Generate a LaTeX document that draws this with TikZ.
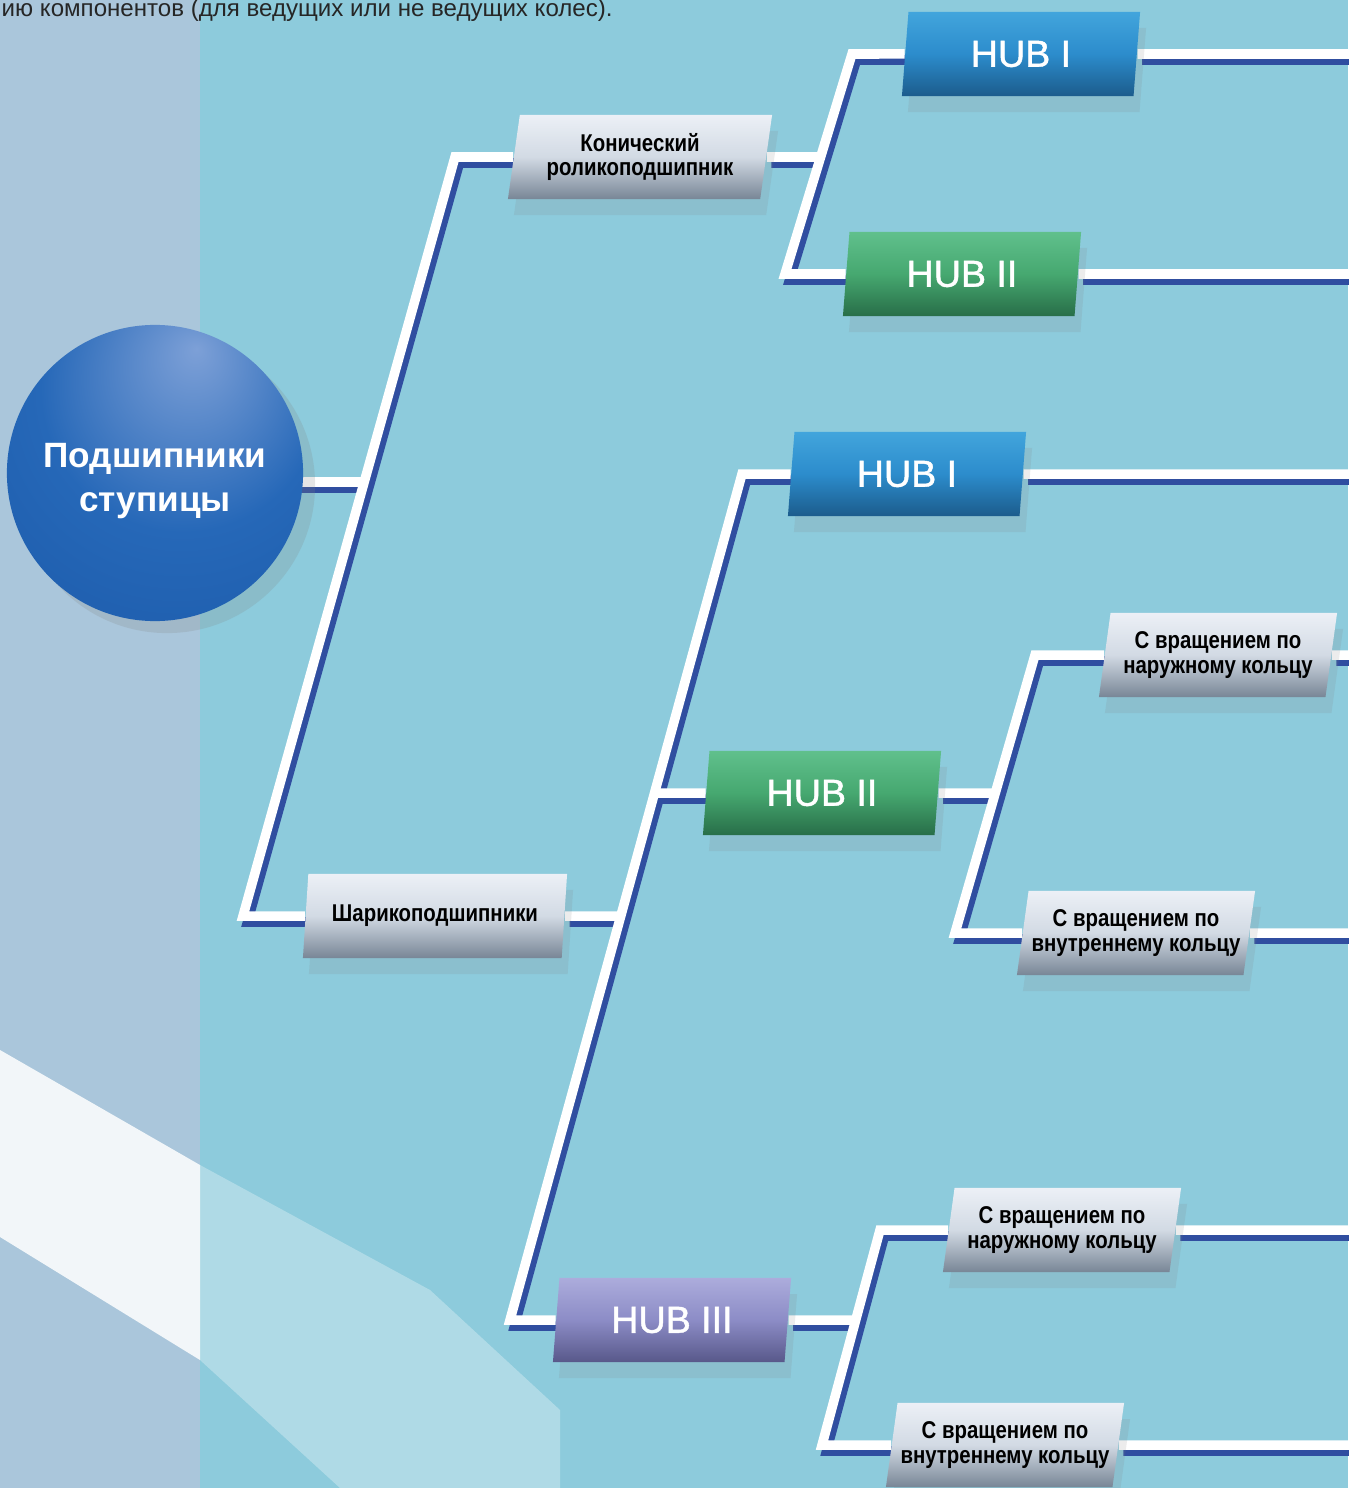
\documentclass[tikz,border=0pt]{standalone}
\usepackage{fontspec}
\setmainfont{Liberation Sans}
\newfontfamily\condfont[FakeStretch=0.84]{Liberation Sans}
\newfontfamily\hubfont[FakeBold=1.2]{Liberation Sans}
\usepackage{tikz}
\usetikzlibrary{shapes.geometric, shadows}

\definecolor{bgcyan}{RGB}{141,203,220}
\definecolor{bgleft}{RGB}{170,198,219}
\definecolor{linkblue}{RGB}{48,78,160}
\definecolor{sphhi}{RGB}{125,160,215}
\definecolor{sphmid}{RGB}{38,104,184}
\definecolor{sphlo}{RGB}{26,88,168}
\definecolor{sphedge}{RGB}{18,66,145}
\definecolor{greytop}{RGB}{236,240,246}
\definecolor{greymid}{RGB}{210,218,228}
\definecolor{greybot}{RGB}{120,134,150}
\definecolor{bluetop}{RGB}{66,165,220}
\definecolor{bluemid}{RGB}{44,140,204}
\definecolor{bluebot}{RGB}{28,92,140}
\definecolor{greentop}{RGB}{96,192,140}
\definecolor{greenmid}{RGB}{70,168,112}
\definecolor{greenbot}{RGB}{40,110,72}
\definecolor{purpletop}{RGB}{172,172,220}
\definecolor{purplemid}{RGB}{140,140,198}
\definecolor{purplebot}{RGB}{88,88,138}

\pgfdeclareradialshading{sphere}{\pgfpoint{7bp}{21bp}}{color(0bp)=(sphhi); color(24bp)=(sphmid); color(50bp)=(sphlo); color(72bp)=(sphedge)}

\pgfdeclarelayer{bg}
\pgfdeclarelayer{lines}
\pgfsetlayers{bg,lines,main}

\tikzstyle{rootball} = [circle, minimum size=2.96cm, shading=sphere, text=white, align=center, font=\bfseries\fontsize{10}{12.5}\selectfont, drop shadow={shadow xshift=1.2mm, shadow yshift=-1.2mm, opacity=0.2}]
\tikzstyle{plate} = [trapezium, trapezium left angle=76, trapezium right angle=104, trapezium stretches body, minimum width=2.38cm, minimum height=0.84cm, align=center, inner sep=0pt, drop shadow={shadow xshift=0.6mm, shadow yshift=-1.6mm, opacity=0.15}]
\tikzstyle{variant} = [plate, top color=greytop, bottom color=greybot, middle color=greymid, text=black, font=\condfont\bfseries\fontsize{6.9}{7}\selectfont]
\tikzstyle{hub} = [plate, text=white, font=\hubfont\fontsize{10.7}{12}\selectfont]
\tikzstyle{hubone} = [hub, top color=bluetop, bottom color=bluebot, middle color=bluemid]
\tikzstyle{hubtwo} = [hub, top color=greentop, bottom color=greenbot, middle color=greenmid]
\tikzstyle{hubthree} = [hub, top color=purpletop, bottom color=purplebot, middle color=purplemid]
\tikzstyle{link} = [line width=0.95mm, draw=white, preaction={draw=linkblue, line width=0.95mm, transform canvas={shift={(0.45mm,-0.6mm)}}}]

\begin{document}
\begin{tikzpicture}[x=0.01cm, y=-0.01cm]
  \useasboundingbox (0,0) rectangle (1348,1488);
  \begin{pgfonlayer}{bg}
    \fill[bgcyan] (0,0) rectangle (1348,1488);
    \fill[bgleft] (0,0) rectangle (200,1488);
    \fill[white, opacity=0.85] (0,1050) -- (200,1165) -- (200,1360) -- (0,1237) -- cycle;
    \fill[white, opacity=0.3] (200,1165) -- (430,1290) -- (560,1410) -- (560,1488) -- (340,1488) -- (200,1360) -- cycle;
  \end{pgfonlayer}

  \node (lead) [anchor=base west, inner sep=0pt, text=black!85, font=\fontsize{6.85}{8}\selectfont] at (1,17) {ию компонентов (для ведущих или не ведущих колес).};

  \node (root) [rootball] at (155,473) {\raisebox{-0.8mm}[\height][\depth]{\begin{tabular}{@{}c@{}}Подшипники\\ступицы\end{tabular}}};
  \node (kon) [variant, minimum width=2.64cm] at (640,157) {Конический\\роликоподшипник};
  \node (shar) [variant, minimum width=2.64cm] at (435,916) {Шарикоподшипники};
  \node (hub1a) [hubone] at (1021,54) {HUB I};
  \node (hub2a) [hubtwo] at (962,274) {HUB II};
  \node (hub1b) [hubone] at (907,474) {HUB I};
  \node (hub2b) [hubtwo] at (822,793) {HUB II};
  \node (hub3) [hubthree] at (672,1320) {HUB III};
  \node (outer1) [variant] at (1218,655) {С вращением по\\наружному кольцу};
  \node (inner1) [variant] at (1136,933) {С вращением по\\внутреннему кольцу};
  \node (outer2) [variant] at (1062,1230) {С вращением по\\наружному кольцу};
  \node (inner2) [variant] at (1005,1445) {С вращением по\\внутреннему кольцу};

  % trunk corners and junctions
  \coordinate (t1top) at (455,157);
  \coordinate (t1bot) at (243,916);
  \coordinate (j1) at (364,482);
  \coordinate (t2top) at (852,54);
  \coordinate (t2bot) at (785,274);
  \coordinate (j2) at (821,157);
  \coordinate (t3top) at (742,474);
  \coordinate (t3bot) at (510,1320);
  \coordinate (j3) at (621,916);
  \coordinate (j4) at (655,793);
  \coordinate (t4top) at (1035,655);
  \coordinate (t4bot) at (955,933);
  \coordinate (j5) at (995,793);
  \coordinate (t5top) at (880,1230);
  \coordinate (t5bot) at (822,1445);
  \coordinate (j6) at (856,1320);
  % free ends at the right edge
  \coordinate (e1) at (1370,54);
  \coordinate (e2) at (1370,274);
  \coordinate (e3) at (1370,474);
  \coordinate (e4) at (1370,655);
  \coordinate (e5) at (1370,933);
  \coordinate (e6) at (1370,1230);
  \coordinate (e7) at (1370,1445);

  \begin{pgfonlayer}{lines}
    \draw [link] (root.center |- j1) -- (j1);
    \draw [link] (kon) -- (t1top) -- (t1bot) -- (shar);
    \draw [link] (kon) -- (j2);
    \draw [link] (hub1a) -- (t2top) -- (t2bot) -- (hub2a);
    \draw [link] (hub1a) -- (e1);
    \draw [link] (hub2a) -- (e2);
    \draw [link] (shar) -- (j3);
    \draw [link] (hub1b) -- (t3top) -- (t3bot) -- (hub3);
    \draw [link] (j4) -- (hub2b);
    \draw [link] (hub1b) -- (e3);
    \draw [link] (hub2b) -- (j5);
    \draw [link] (outer1) -- (t4top) -- (t4bot) -- (inner1);
    \draw [link] (outer1) -- (e4);
    \draw [link] (inner1) -- (e5);
    \draw [link] (hub3) -- (j6);
    \draw [link] (outer2) -- (t5top) -- (t5bot) -- (inner2);
    \draw [link] (outer2) -- (e6);
    \draw [link] (inner2) -- (e7);
  \end{pgfonlayer}
\end{tikzpicture}
\end{document}
